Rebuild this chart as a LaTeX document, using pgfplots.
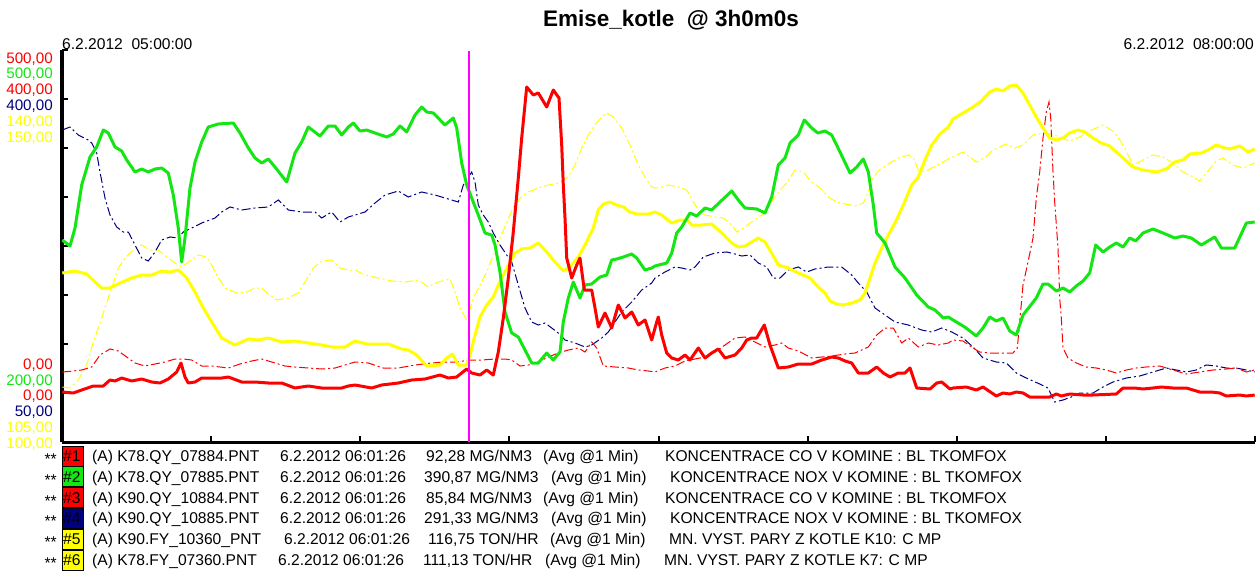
\documentclass[border=0pt]{standalone}
\usepackage{fontspec}
\setmainfont{Liberation Sans}
\usepackage{pgfplots}
\pgfplotsset{compat=1.18}
\definecolor{cred}{RGB}{255,0,0}
\definecolor{cgreen}{RGB}{20,230,20}
\definecolor{cnavy}{RGB}{0,0,128}
\definecolor{cyellow}{RGB}{255,255,0}
\definecolor{cmag}{RGB}{255,0,255}
\newcommand{\lf}{\fontsize{15.6bp}{18bp}\selectfont}
\newcommand{\tf}{\fontsize{15.2bp}{18bp}\selectfont}
\newcommand{\legrow}[9]{%
  \node[anchor=base east, inner sep=0, font=\lf] at (57,#1+3) {**};
  \fill[#2, draw=black, line width=1bp] (62.5,#1-15.5) rectangle (83,#1+4.5);
  \node[anchor=base west, inner sep=0, font=\lf] at (63,#1) {\##3};
  \node[anchor=base west, inner sep=0, font=\lf] at (92,#1) {(A) #4};
  \node[anchor=base west, inner sep=0, font=\lf] at (#5,#1) {6.2.2012 06:01:26};
  \legrowb{#1}{#6}{#7}{#8}{#9}}
\newcommand{\legrowb}[5]{%
  \node[anchor=base west, inner sep=0, font=\lf] at (#3,#1) {#2};
  \node[anchor=base west, inner sep=0, font=\lf] at (#4,#1) {(Avg @1 Min)};
  \node[anchor=base west, inner sep=0, font=\lf] at (#5,#1) {\legdesc};}
\begin{document}
\begin{tikzpicture}
\useasboundingbox (0,0) rectangle (1258bp,-586bp);
\begin{axis}[
  at={(62bp,-442bp)}, anchor=south west,
  scale only axis, width=1193bp, height=392bp,
  xmin=62, xmax=1255, ymin=0, ymax=392,
  axis lines=left, axis line style={-, black, line width=3bp},
  xtick={62,211.1,360.3,509.4,658.5,807.6,956.8,1105.9,1255},
  ytick={0,49,98,147,196,245,294,343,392},
  xticklabels={}, yticklabels={},
  tick align=inside, major tick length=6bp,
  tick style={black, line width=2bp},
  clip=false,
]
% #5 thin yellow
\addplot[cyellow, line width=1bp, dash pattern=on 9bp off 3bp on 2bp off 3bp] coordinates {
(62.3,55) (70,54) (78.3,62) (86.7,77) (93.3,100) (98.3,114) (105,134) (111.7,154) (118.3,174) (125,184) (133.3,192) (141.7,197) (150,192) (158.3,192) (166.7,185) (175,179) (181.7,175) (190,181) (198.3,187) (206.7,185) (211.7,177) (216.7,167) (225,154) (236.7,149) (246.7,150) (255,154) (261.7,154) (268.3,148) (276.7,142) (288.3,144) (298.3,149) (305,160) (313.3,174) (321.7,181) (331.7,182) (340,174) (348.3,172) (355,172) (365,167) (378.3,164) (391.7,161) (405,160) (418.3,162) (428.3,155) (438.3,160) (450,163) (455,150) (460,134) (466.7,122) (473.3,144) (480,157) (486.7,170) (493.3,187) (500,204) (506.7,219) (513.3,235) (520,244) (528.3,250) (538.3,254) (548.3,257) (558.3,259) (568.3,265) (575,277) (581.7,294) (588.3,307) (595,317) (601.7,325) (606.7,329) (613.3,325) (621.7,314) (630,297) (638.3,277) (645,265) (651.7,255) (655,254) (661.7,255) (668.3,257) (678.3,255) (686.7,252) (693.3,240) (700,230) (705,227) (715,225) (723.3,224) (731.7,217) (736.7,210) (743.3,214) (751.7,220) (761.7,227) (770,238) (778.3,250) (786.7,259) (795,272) (803.3,270) (811.7,260) (820,254) (828.3,245) (836.7,240) (845,238) (855,236) (863.3,239) (868.3,250) (871.7,262) (878.3,271) (888.3,278) (898.3,284) (908.3,287) (913.3,284) (918.3,272) (925,270) (931.7,274) (941.7,279) (950,284) (953,285) (963,290) (969.7,285) (976.3,280) (984.7,284) (993,292) (1006.3,298) (1014.7,294) (1023,297) (1033,307) (1043,309) (1051.3,308) (1059.7,305) (1069.7,301) (1079.7,305) (1089.7,311) (1103,317) (1111.3,312) (1118,305) (1124.7,294) (1133,277) (1143,282) (1153,287) (1163,285) (1173,279) (1183,270) (1193,265) (1199.7,261) (1206.3,269) (1216.3,281) (1223,284) (1233,277) (1243,274) (1254.7,279)
};
% #4 navy
\addplot[cnavy, line width=1bp, dash pattern=on 9bp off 3bp on 2bp off 3bp] coordinates {
(62.3,312) (70,315) (78.3,307) (88.3,302) (91.7,299) (96.7,289) (100,270) (105,244) (110,227) (116.7,215) (123.3,210) (128.3,210) (135,197) (141.7,184) (148.3,181) (155,190) (161.7,202) (170,205) (178.3,204) (183.3,210) (191.7,214) (201.7,219) (215,224) (221.7,230) (230,235) (241.7,232) (255,234) (268.3,235) (278.3,242) (288.3,232) (301.7,230) (315,230) (321.7,224) (331.7,230) (340,220) (348.3,225) (355,227) (365,230) (375,239) (385,247) (398.3,251) (408.3,245) (421.7,250) (435,247) (448.3,243) (458.3,240) (463.3,257) (471.7,270) (475,260) (478.3,237) (483.3,227) (488.3,220) (493.3,209) (500,197) (506.7,187) (511.7,180) (518.3,157) (525,134) (531.7,120) (538.3,117) (545,119) (551.7,114) (558.3,109) (565,102) (575,99) (585,95) (591.7,97) (601.7,104) (608.3,110) (615,120) (621.7,130) (631.7,140) (641.7,152) (651.7,159) (655,164) (665,170) (675,175) (681.7,174) (690,172) (695,175) (703.3,185) (715,189) (726.7,190) (735,188) (741.7,186) (750,187) (758.3,179) (766.7,175) (773.3,164) (780,164) (788.3,172) (798.3,175) (806.7,170) (815,173) (828.3,175) (841.7,175) (851.7,167) (858.3,159) (866.7,150) (875,134) (885,127) (895,120) (908.3,117) (921.7,112) (931.7,110) (941.7,114) (951.7,110) (963,104) (973,95) (983,84) (996.3,80) (1006.3,79) (1016.3,69) (1026.3,64) (1039.7,58) (1048,54) (1054.7,40) (1063,42) (1071.3,45) (1079.7,49) (1093,49) (1103,55) (1113,60) (1126.3,64) (1139.7,66) (1153,70) (1166.3,74) (1176.3,72) (1186.3,70) (1196.3,72) (1206.3,77) (1216.3,76) (1226.3,74) (1236.3,74) (1246.3,72) (1254.7,70)
};
% #3 thin red
\addplot[cred, line width=1bp, dash pattern=on 9bp off 3bp on 2bp off 3bp] coordinates {
(62.3,70) (73.3,71) (81.7,72) (91.7,75) (100,87) (110,93) (118.3,91) (126.7,85) (135,79) (145,76) (155,78) (165,80) (175,83) (183.3,83) (191.7,82) (201.7,76) (211.7,76) (228.3,74) (240,78) (251.7,81) (261.7,83) (271.7,80) (285,76) (295,75) (308.3,74) (321.7,73) (335,74) (348.3,78) (355,80) (368.3,79) (383.3,74) (398.3,74) (415,77) (431.7,79) (445,80) (458.3,80) (468.3,82) (481.7,82) (495,83) (505,83) (511.7,82) (520,76) (528.3,77) (538.3,80) (548.3,85) (558.3,89) (568.3,92) (578.3,94) (585,90) (591.7,100) (596.7,94) (603.3,76) (615,75) (628.3,74) (638.3,72) (648.3,71) (655,70) (665,74) (675,76) (685,81) (695,83) (705,85) (715,90) (725,97) (735,104) (745,105) (755,100) (765,95) (775,97) (781.7,99) (788.3,94) (798.3,91) (811.7,84) (821.7,85) (831.7,86) (845,88) (855,89) (868.3,95) (876.7,107) (885,114) (893.3,114) (901.7,99) (908.3,104) (918.3,95) (928.3,99) (938.3,97) (948.3,99) (953,102) (963,101) (973,94) (979.7,90) (989.7,89) (1003,89) (1013,89) (1017.3,94) (1019.7,120) (1023,157) (1028,180) (1033,204) (1036.3,244) (1039.7,270) (1043,304) (1046.3,330) (1049,340) (1050.7,324) (1053,270) (1054.7,240) (1058,194) (1059.7,144) (1061.3,124) (1063,94) (1068,84) (1076.3,79) (1086.3,75) (1096.3,74) (1106.3,72) (1116.3,69) (1126.3,72) (1136.3,74) (1146.3,75) (1159.7,76) (1173,72) (1186.3,68) (1199.7,70) (1213,72) (1226.3,73) (1236.3,74) (1246.3,70) (1254.7,72)
};
% #6 thick yellow
\addplot[cyellow, line width=3bp, line join=round] coordinates {
(62.3,169) (75,171) (86.7,168) (95,160) (101.7,154) (110,154) (120,159) (131.7,164) (141.7,167) (151.7,167) (161.7,171) (170,170) (178.3,172) (186.7,164) (195,150) (203.3,134) (211.7,120) (221.7,104) (235,97) (248.3,103) (258.3,102) (268.3,104) (281.7,100) (295,101) (308.3,99) (321.7,97) (331.7,95) (345,95) (355,101) (366.7,98) (388.3,98) (401.7,93) (408.3,92) (416.7,87) (426.7,76) (440,77) (446.7,84) (452.3,88) (458.3,77) (466.7,77) (470,87) (475,107) (480,125) (486.7,137) (493.3,145) (498.3,157) (503.3,167) (508.3,177) (515,189) (521.7,193) (530,194) (538.3,199) (546.7,190) (555,180) (563.3,171) (570,175) (578.3,185) (585,197) (593.3,214) (598.3,232) (603.3,238) (610,240) (616.7,237) (623.3,235) (630,230) (636.7,228) (648.3,228) (655,230) (661.7,227) (671.7,219) (680,222) (686.7,222) (691.7,217) (701.7,217) (711.7,218) (721.7,209) (731.7,199) (738.3,195) (745,196) (751.7,200) (758.3,204) (765,200) (771.7,189) (778.3,177) (788.3,174) (798.3,169) (810,164) (818.3,155) (825,149) (830,141) (836.7,138) (843.3,137) (851.7,139) (860,142) (865,149) (870,164) (875,179) (881.7,194) (888.3,207) (895,219) (903.3,237) (911.7,257) (918.3,265) (925,282) (931.7,297) (940,308) (948.3,315) (953,323) (963,329) (973,335) (981.3,341) (989.7,350) (996.3,353) (1003,351) (1009.7,356) (1016.3,357) (1023,349) (1029.7,337) (1036.3,325) (1043,314) (1049.7,304) (1056.3,302) (1063,304) (1069.7,309) (1078,312) (1084.7,310) (1093,304) (1101.3,299) (1109.7,296) (1116.3,290) (1123,284) (1133,275) (1143,272) (1156.3,270) (1166.3,273) (1174.7,280) (1183,282) (1189.7,288) (1201.3,289) (1208,292) (1216.3,297) (1224.7,294) (1229.7,293) (1239.7,296) (1248,290) (1254.7,293)
};
% #2 green
\addplot[cgreen, line width=3bp, line join=round] coordinates {
(62.3,202) (70,196) (75,214) (81.7,257) (90,285) (96.7,295) (103.3,312) (108.3,309) (115,295) (121.7,291) (126.7,282) (135,270) (141.7,273) (148.3,270) (155,273) (161.7,274) (168.3,269) (173.3,247) (178.3,214) (181.7,180) (185,204) (190,254) (195,280) (201.7,300) (208.3,315) (218.3,318) (233.3,319) (240,309) (248.3,294) (255,284) (261.7,279) (268.3,283) (275,275) (286.7,260) (295,289) (301.7,300) (308.3,315) (320,306) (328.3,316) (335,316) (341.7,307) (348.3,315) (353.3,319) (360,311) (366.7,312) (375,309) (386.7,305) (393.3,308) (400,316) (406.7,310) (415,327) (421.7,335) (426.7,330) (433.3,329) (445,317) (453.3,324) (456.7,314) (461.7,279) (466.7,257) (471.7,244) (478.3,227) (485,209) (491.7,207) (495,197) (500,170) (505,130) (511.7,109) (518.3,105) (525,92) (531.7,79) (538.3,79) (546.7,89) (553.3,82) (560,90) (563.3,120) (568.3,144) (573.3,160) (580,144) (585,157) (591.7,158) (600,165) (606.7,167) (611.7,182) (616.7,183) (623.3,185) (631.7,188) (636.7,184) (645,172) (651.7,174) (655,176) (666.7,179) (671.7,189) (676.7,209) (681.7,215) (690,229) (696.7,226) (705,234) (711.7,232) (720,240) (731.7,251) (738.3,242) (745,234) (756.7,233) (765,229) (771.7,245) (778.3,277) (785,284) (790,299) (798.3,307) (804.3,322) (811.7,314) (817.7,309) (825,311) (831.7,307) (840,290) (850,269) (856.7,275) (863.3,283) (868.3,270) (873.3,237) (876.7,209) (885,199) (895,175) (905,164) (916.7,147) (928.3,135) (935,132) (943.3,124) (948.3,125) (953,122) (964.7,115) (976.3,106) (983,114) (989.7,125) (996.3,121) (1003,124) (1009.7,111) (1016.3,107) (1023,127) (1036.3,144) (1043,158) (1048,158) (1056.3,151) (1063,154) (1069.7,150) (1076.3,156) (1083,161) (1089.7,169) (1095.7,197) (1103,190) (1109.7,195) (1116.3,199) (1123,195) (1129.7,204) (1135.7,201) (1143,209) (1153,213) (1163,209) (1174.7,204) (1183,206) (1191.3,204) (1201.3,197) (1214.7,205) (1221.3,194) (1234.7,194) (1246.3,219) (1254.7,220)
};
% #1 thick red
\addplot[cred, line width=3bp, line join=round] coordinates {
(62.3,50) (73.3,49) (81.7,52) (93.3,56) (103.3,56) (110,62) (115,61) (121.7,64) (131.7,61) (141.7,63) (151.7,60) (160,59) (168.3,63) (176.7,70) (181,79) (185,65) (188.3,59) (195,60) (201.7,64) (211.7,64) (221.7,64) (228.3,65) (241.7,60) (255,60) (268.3,59) (281.7,59) (295,54) (308.3,56) (321.7,54) (333.3,54) (341.7,54) (348.3,56) (355,57) (371.7,54) (381.7,57) (398.3,59) (411.7,62) (425,63) (440,67) (448.3,64) (456.7,65) (466.7,73) (471.7,69) (480,67) (486.7,72) (493.3,67) (498.3,90) (503.3,124) (508.3,164) (513.3,210) (518.3,264) (521.7,304) (526.7,355) (533.3,347) (538.3,349) (546.7,335) (553.3,352) (559,344) (561.7,297) (563.3,257) (565,224) (566.7,184) (571.7,164) (576.7,177) (580,184) (584.3,152) (591.7,152) (595,134) (598.3,115) (605,129) (611.7,114) (618.3,137) (625,124) (631.7,130) (638.3,117) (645,122) (651.7,102) (656.7,120) (658.3,125) (661.7,107) (666.7,89) (671.7,84) (678.3,82) (685,87) (690,82) (698.3,94) (705,84) (711.7,89) (718.3,93) (725,84) (735,87) (741.7,94) (746.7,102) (751.7,104) (756.7,104) (764.3,117) (770,97) (778.3,74) (788.3,75) (798.3,78) (811.7,78) (821.7,82) (831.7,85) (838.3,84) (845,81) (851.7,79) (858.3,69) (868.3,69) (876.7,75) (883.3,69) (890,65) (898.3,69) (905,69) (910,74) (916.7,54) (930,53) (936.7,59) (941.7,60) (950,53) (953,54) (966.3,55) (976.3,52) (983,55) (996.3,46) (1003,49) (1009.7,48) (1016.3,50) (1023,49) (1029.7,45) (1039.7,45) (1049.7,45) (1056.3,48) (1061.3,46) (1069.7,48) (1083,47) (1093,47) (1116.3,48) (1123,54) (1134.7,54) (1143,53) (1153,54) (1161.3,55) (1173,54) (1186.3,54) (1199.7,50) (1211.3,50) (1219.7,49) (1226.3,46) (1239.7,47) (1246.3,46) (1254.7,47)
};
\draw[cmag, line width=2bp] (axis cs:469,0) -- (axis cs:469,391);
\end{axis}
\begin{scope}[x=1bp, y=-1bp]
\node[anchor=base, inner sep=0, font=\fontsize{22.5bp}{26bp}\selectfont\bfseries] at (671,26) {Emise\_kotle\ \ @ 3h0m0s};
\node[anchor=base west, inner sep=0, font=\lf] at (62,49) {6.2.2012\ \ 05:00:00};
\node[anchor=base east, inner sep=0, font=\lf] at (1254,49) {6.2.2012\ \ 08:00:00};
% stacked scale labels (top)
\node[anchor=base east, inner sep=0, font=\tf, text=cred] at (53,63.3) {500,00};
\node[anchor=base east, inner sep=0, font=\tf, text=cgreen] at (53,78.7) {500,00};
\node[anchor=base east, inner sep=0, font=\tf, text=cred] at (53,94.3) {400,00};
\node[anchor=base east, inner sep=0, font=\tf, text=cnavy] at (53,110) {400,00};
\node[anchor=base east, inner sep=0, font=\tf, text=cyellow] at (53,126.7) {140,00};
\node[anchor=base east, inner sep=0, font=\tf, text=cyellow] at (53,142.5) {150,00};
% stacked scale labels (bottom)
\node[anchor=base east, inner sep=0, font=\tf, text=cred] at (53,369.3) {0,00};
\node[anchor=base east, inner sep=0, font=\tf, text=cgreen] at (53,385) {200,00};
\node[anchor=base east, inner sep=0, font=\tf, text=cred] at (53,400.5) {0,00};
\node[anchor=base east, inner sep=0, font=\tf, text=cnavy] at (53,416.7) {50,00};
\node[anchor=base east, inner sep=0, font=\tf, text=cyellow] at (53,432.7) {105,00};
\node[anchor=base east, inner sep=0, font=\tf, text=cyellow] at (53,448.3) {100,00};
% legend rows
\def\legdesc{KONCENTRACE CO V KOMINE : BL TKOMFOX}
\legrow{461.5}{cred}{1}{K78.QY\_07884.PNT}{280}{92,28 MG/NM3}{426}{543}{665}
\def\legdesc{KONCENTRACE NOX V KOMINE : BL TKOMFOX}
\legrow{482.3}{cgreen}{2}{K78.QY\_07885.PNT}{280}{390,87 MG/NM3}{424}{551}{670}
\def\legdesc{KONCENTRACE CO V KOMINE : BL TKOMFOX}
\legrow{503.1}{cred}{3}{K90.QY\_10884.PNT}{280}{85,84 MG/NM3}{426}{543}{665}
\def\legdesc{KONCENTRACE NOX V KOMINE : BL TKOMFOX}
\legrow{523.9}{cnavy}{4}{K90.QY\_10885.PNT}{280}{291,33 MG/NM3}{424}{551}{670}
\def\legdesc{MN. VYST. PARY Z KOTLE K10: C MP}
\legrow{544.7}{cyellow}{5}{K90.FY\_10360\_PNT}{284}{116,75 TON/HR}{428}{550}{669}
\def\legdesc{MN. VYST. PARY Z KOTLE K7: C MP}
\legrow{565.5}{cyellow}{6}{K78.FY\_07360.PNT}{278}{111,13 TON/HR}{423}{545}{664}
\end{scope}
\end{tikzpicture}
\end{document}
